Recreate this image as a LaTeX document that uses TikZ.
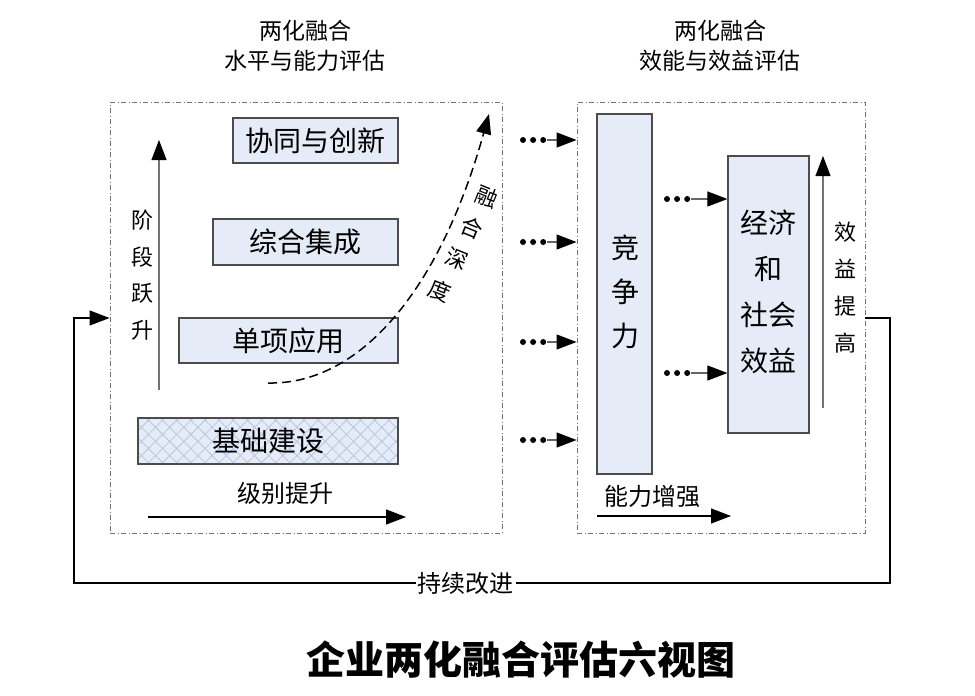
\documentclass[tikz,border=0pt]{standalone}
\usepackage{fontspec}
\setmainfont{Noto Sans CJK SC}
\usetikzlibrary{arrows.meta,positioning,patterns.meta}
\definecolor{boxblue}{HTML}{E6ECF7}
\definecolor{hatchblue}{HTML}{B4C6E2}

\begin{document}
\begin{tikzpicture}[x=1pt,y=-1pt,line width=1.1pt]
  \tikzstyle{arr}=[-{Triangle[length=20pt,width=15pt,color=black]}]
  \tikzstyle{stage}=[draw=black!70,fill=boxblue,line width=1.2pt,inner sep=0pt,
                     font=\fontsize{28}{30}\selectfont]
  \tikzstyle{frame}=[draw=black!55,dash pattern=on 5pt off 2.5pt on 1pt off 2.5pt,
                     line width=0.9pt,inner sep=0pt]
  \tikzstyle{caption}=[font=\fontsize{23}{30}\selectfont,align=center]
  \tikzstyle{vtext}=[font=\fontsize{22}{36.5}\selectfont,align=center]
  \tikzstyle{bigv}=[font=\fontsize{28}{45}\selectfont,align=center]
  \tikzstyle{dot}=[circle,fill=black,inner sep=0pt,minimum size=6pt]

  \useasboundingbox (0,0) rectangle (975,696);

  % two frames and their headings
  \node[frame,minimum width=392,minimum height=431] (lframe) at (306,317.5) {};
  \node[frame,minimum width=288,minimum height=431] (rframe) at (721,317.5) {};
  \node[caption] (ltitle) at (305,46) {两化融合\\水平与能力评估};
  \node[caption] (rtitle) at (720,46) {两化融合\\效能与效益评估};

  % stages
  \node[stage,minimum width=165,minimum height=45] (xt) at (315.5,140.5) {协同与创新};
  \node[stage,minimum width=185,minimum height=46] (zh) at (305.5,242) {综合集成};
  \node[stage,minimum width=219,minimum height=45] (dx) at (288.5,340.5) {单项应用};
  \node[stage,minimum width=260,minimum height=46] (jc) at (268,441) {};
  \fill[pattern={Hatch[angle=45,distance=10pt,line width=0.8pt]},pattern color=hatchblue]
    (jc.south west) rectangle (jc.north east);
  \node[stage,fill=none,minimum width=260,minimum height=46] (jctext) at (268,441) {基础建设};

  % axes of the left frame
  \coordinate (jdlow) at (159,390);
  \coordinate (jdtop) at (159,140);
  \draw[draw=black!55,arr] (jdlow) -- (jdtop);
  \node[vtext] (jd) at (142,275) {阶\\段\\跃\\升};
  \coordinate (jbl) at (148,517);
  \coordinate (jbr) at (406,517);
  \draw[arr] (jbl) -- (jbr);
  \node[caption,font=\fontsize{24}{26}\selectfont] (jb) at (285,493) {级别提升};

  % depth of integration
  \coordinate (rhs) at (268,383);
  \coordinate (rhe) at (489,114);
  \draw[arr,line width=1.5pt,dash pattern=on 9pt off 5pt]
    (rhs) .. controls (360,385) and (440,290) .. (rhe);
  \foreach \c/\x/\y [count=\i] in {融/487/197,合/472/228,深/457/259,度/440/291}
    \node[rotate=-22,font=\fontsize{22}{24}\selectfont] (rh\i) at (\x,\y) {\c};

  % links between the frames
  \foreach \y [count=\i] in {140,242,342,440} {
    \node[dot] (la\i) at (523,\y) {};
    \node[dot,right=3pt of la\i] (lb\i) {};
    \node[dot,right=3pt of lb\i] (lc\i) {};
    \draw[arr,draw=black!60] (lc\i) -- (rframe.west |- lc\i);
  }

  % right frame
  \node[stage,minimum width=55,minimum height=360] (jzl) at (624.5,294) {};
  \node[bigv,font=\fontsize{28}{44}\selectfont] (jzltext) at (625,292) {竞\\争\\力};
  \node[stage,minimum width=81,minimum height=277] (xy) at (768.5,294.5) {};
  \node[bigv,font=\fontsize{28}{46}\selectfont] (xytext) at (768,291.5) {经济\\和\\社会\\效益};
  \foreach \y [count=\i] in {199,373} {
    \node[dot] (ra\i) at (667,\y) {};
    \node[dot,right=3pt of ra\i] (rb\i) {};
    \node[dot,right=3pt of rb\i] (rc\i) {};
    \draw[arr,draw=black!60] (rc\i) -- (xy.west |- rc\i);
  }
  \coordinate (xylow) at (823,408);
  \coordinate (xytop) at (823,156);
  \draw[draw=black!55,arr] (xylow) -- (xytop);
  \node[vtext,font=\fontsize{22}{37}\selectfont] (xytg) at (845,288) {效\\益\\提\\高};
  \coordinate (nll) at (597,516);
  \coordinate (nlr) at (731,516);
  \draw[arr] (nll) -- (nlr);
  \node[caption,font=\fontsize{24}{26}\selectfont] (nl) at (652,496) {能力增强};

  % continuous improvement loop
  \coordinate (fb) at (lframe.west |- 0,318);
  \draw[arr] (rframe.east |- fb) -| (890,583)
    -| node[pos=0.26,fill=white,inner sep=2pt,font=\fontsize{24}{26}\selectfont] (cx) {持续改进}
    (74,318) -- (fb);

  \node[font=\fontsize{39}{41}\selectfont\bfseries] (title) at (521,660) {企业两化融合评估六视图};
\end{tikzpicture}
\end{document}
